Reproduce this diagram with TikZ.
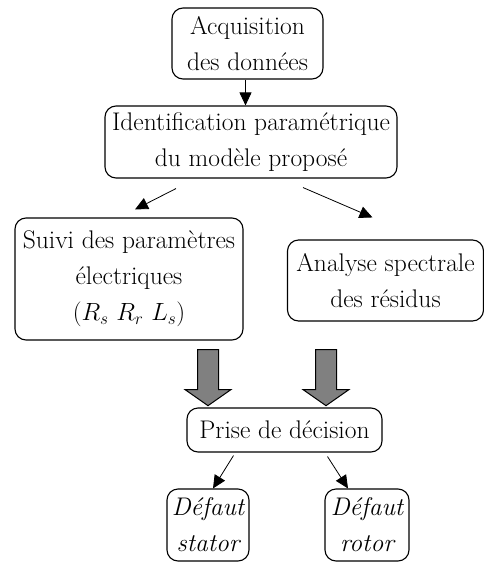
\documentclass[tikz,border=0pt]{standalone}
\usepackage{tikz}
\usetikzlibrary{arrows.meta, shapes.arrows, calc}

\begin{document}
\begin{tikzpicture}[
  x=1pt, y=-1pt,
  blk/.style={draw, rounded corners=11pt, line width=1.1pt, align=center, inner sep=0pt, font=\fontsize{25.5}{36}\selectfont},
  arr/.style={-{Triangle[length=13pt,width=12pt]}, line width=0.8pt},
  bigarr/.style={single arrow, draw, fill=gray, line width=1pt, rotate=-90, inner xsep=0pt, inner ysep=10pt,
    minimum height=56pt, minimum width=45pt, single arrow head extend=12.5pt, single arrow tip angle=110}
]
\useasboundingbox (0,0) rectangle (484,562);

\node[blk, minimum width=151pt, minimum height=71pt] (acq) at (247.5,43.5) {Acquisition\\des données};
\node[blk, minimum width=292pt, minimum height=72pt] (ident) at (251,142) {Identification paramétrique\\du modèle proposé};
\node[blk, minimum width=228pt, minimum height=122pt] (suivi) at (129,279) {Suivi des paramètres\\électriques\\$\Bigl(R_s\ R_r\ L_s\Bigr)$};
\node[blk, minimum width=196pt, minimum height=81pt] (spec) at (385.5,280.5) {Analyse spectrale\\des résidus};
\node[blk, minimum width=195pt, minimum height=44pt] (dec) at (284.5,430) {Prise de décision};
\node[blk, minimum width=82pt, minimum height=72pt, font=\fontsize{25.5}{36}\selectfont\itshape] (stat) at (208,525) {Défaut\\stator};
\node[blk, minimum width=84pt, minimum height=72pt, font=\fontsize{25.5}{36}\selectfont\itshape] (rot) at (367,525) {Défaut\\rotor};

\node[bigarr] (g1) at (208,374) {};
\node[bigarr] (g2) at (326,374) {};

\draw[arr] ([xshift=-2pt]acq.south) -- ([xshift=-2pt]acq.south |- ident.north);
\draw[arr] ([xshift=-75pt,yshift=-10pt]ident.south) -- ([xshift=6pt,yshift=8pt]suivi.north);
\draw[arr] ([xshift=52pt,yshift=-9pt]ident.south) -- ([xshift=-13pt,yshift=22pt]spec.north);
\draw[arr] ([xshift=-51pt,yshift=-3pt]dec.south) -- ([xshift=5pt]stat.north);
\draw[arr] ([xshift=43pt,yshift=-4pt]dec.south) -- ([xshift=-19pt]rot.north);
\end{tikzpicture}
\end{document}
